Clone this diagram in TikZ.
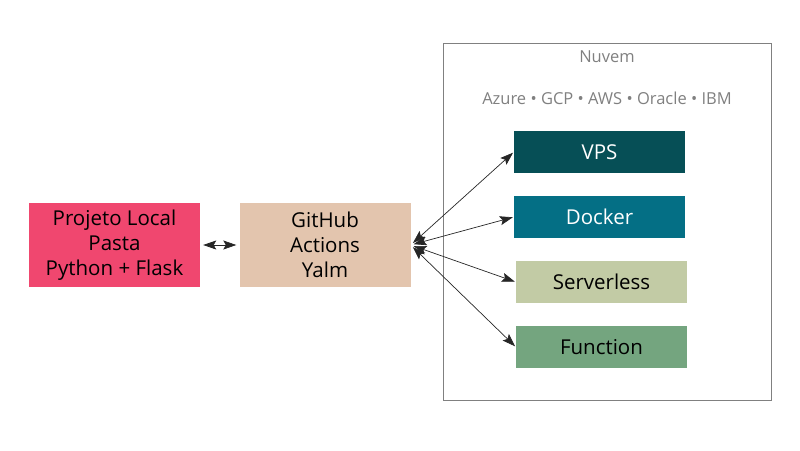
\documentclass[tikz,border=0pt]{standalone}
\usepackage{fontspec}
\setmainfont{Open Sans}
\usetikzlibrary{arrows.meta}
\definecolor{cproj}{HTML}{F0476F}
\definecolor{cgh}{HTML}{E3C5AE}
\definecolor{cvps}{HTML}{064F56}
\definecolor{cdock}{HTML}{046F85}
\definecolor{cserv}{HTML}{C2CBA5}
\definecolor{cfunc}{HTML}{74A57F}
\definecolor{cgray}{HTML}{808080}
\tikzset{
  box/.style={minimum width=171pt, minimum height=42pt, inner sep=0pt, font=\fontsize{20.5}{24}\selectfont},
  bigbox/.style={minimum width=171pt, minimum height=84pt, inner sep=0pt, align=center, font=\fontsize{20.5}{25}\selectfont},
  tip/.style={Stealth[length=13pt,width=9pt,inset=2.5pt]},
  conn/.style={draw=black!85, line width=0.7pt, {Stealth[length=13pt,width=9pt,inset=2.5pt]}-{Stealth[length=13pt,width=9pt,inset=2.5pt]}},
}
\begin{document}
\begin{tikzpicture}[x=1pt,y=-1pt]
\useasboundingbox (0,0) rectangle (800,450);
\node[draw=cgray, line width=0.8pt, minimum width=328pt, minimum height=357pt, inner sep=0pt] (cloud) at (607,221.5) {};
\node[text=cgray, font=\fontsize{16.5}{19}\selectfont] (nuvem) at (607,57) {Nuvem};
\node[text=cgray, font=\fontsize{16.5}{19}\selectfont] (prov) at (607,98) {Azure • GCP • AWS • Oracle • IBM};
\node[bigbox, fill=cproj] (proj) at (114.5,245) {Projeto Local\\Pasta\\Python + Flask};
\node[bigbox, fill=cgh] (gh) at (325,245) {GitHub\\Actions\\Yalm};
\node[box, fill=cvps, text=white] (vps) at (599.5,152) {VPS};
\node[box, fill=cdock, text=white] (dock) at (599.5,217) {Docker};
\node[box, fill=cserv] (serv) at (601.5,282) {Serverless};
\node[box, fill=cfunc] (func) at (601.5,347) {Function};
\draw[conn, shorten <=3pt, shorten >=3pt] (proj.east) -- (gh.west);
\draw[conn, shorten <=3pt, shorten >=1pt] (gh.east) -- (vps.west);
\draw[conn, shorten <=3pt, shorten >=1pt] (gh.east) -- (dock.west);
\draw[conn, shorten <=3pt, shorten >=1pt] (gh.east) -- (serv.west);
\draw[conn, shorten <=3pt, shorten >=1pt] (gh.east) -- (func.west);
\end{tikzpicture}
\end{document}
